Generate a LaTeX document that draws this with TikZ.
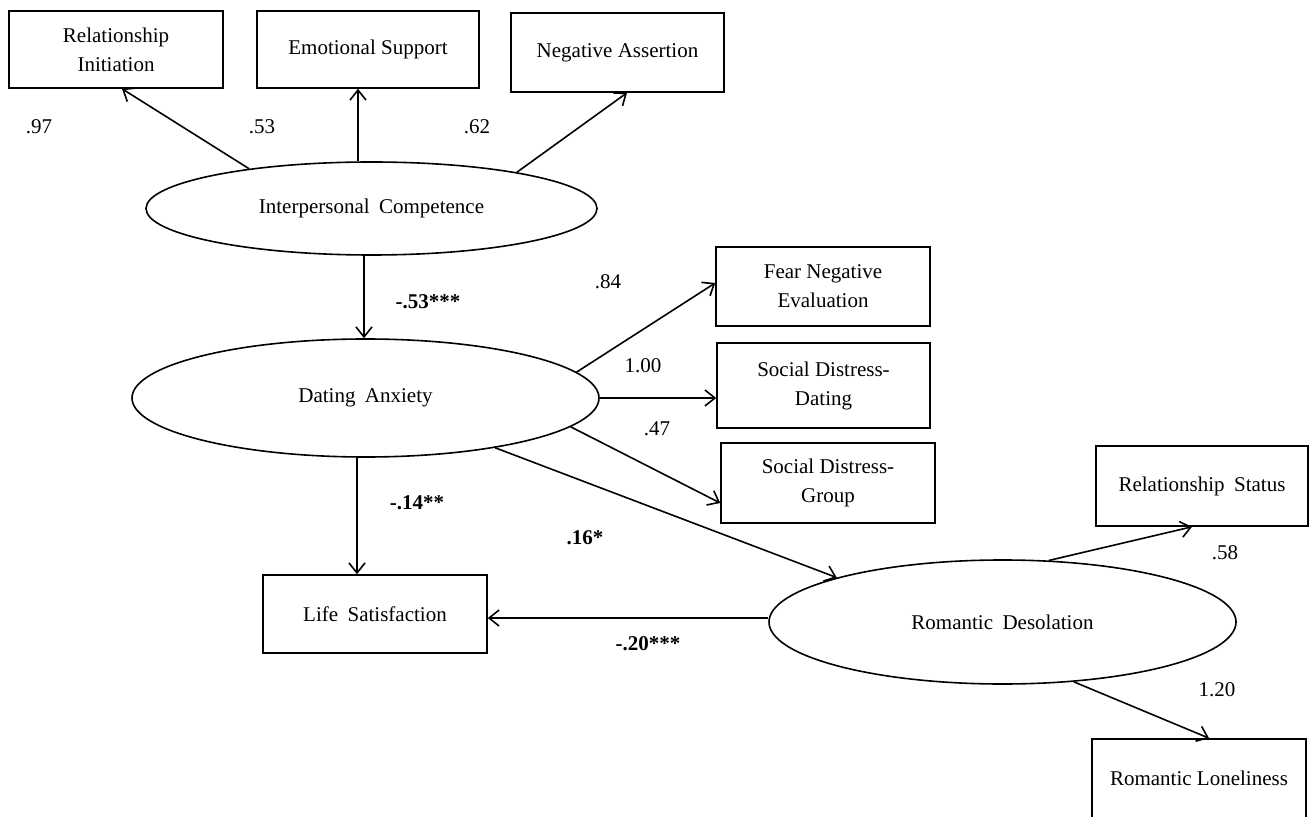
\documentclass[tikz,border=0pt]{standalone}
\usepackage{fontspec}
\setmainfont{Liberation Serif}
\usetikzlibrary{arrows.meta,shapes.geometric,calc}
\newcommand{\gap}{\hspace{0.45em}}
\begin{document}
\begin{tikzpicture}[x=0.5pt,y=-0.5pt,
  font=\fontsize{10.5}{14.5}\selectfont,
  box/.style={draw,line width=0.8pt,rectangle,inner sep=0pt,align=center},
  latent/.style={draw,line width=0.8pt,ellipse,inner sep=0pt},
  arr/.style={line width=0.8pt,-{Straight Barb[length=5pt,width=8pt,line width=0.8pt]}},
  lbl/.style={inner sep=0pt},
  blbl/.style={inner sep=0pt,font=\fontsize{10.5}{14.5}\selectfont\bfseries}]
\fill[white] (0,0) rectangle (1309,817);
\useasboundingbox (0,0) rectangle (1309,817);

% observed indicators (top)
\node[box,minimum width=107pt,minimum height=38.5pt] (RI) at (116,49.5) {Relationship\\Initiation};
\node[box,minimum width=111pt,minimum height=38.5pt] (ES) at (368,49.5) {Emotional Support};
\node[box,minimum width=106.5pt,minimum height=39.5pt] (NA) at (617.5,52.5) {Negative Assertion};

% latent variables
\node[latent,minimum width=225.5pt,minimum height=46.5pt] (IC) at (371.5,208.5) {Interpersonal\gap Competence};
\node[latent,minimum width=233.5pt,minimum height=59pt] (DA) at (365.5,398) {Dating\gap Anxiety};
\node[latent,minimum width=233.5pt,minimum height=62pt] (RD) at (1002.5,622) {Romantic\gap Desolation};

% dating anxiety indicators
\node[box,minimum width=107pt,minimum height=39.5pt] (FNE) at (823,286.5) {Fear Negative\\Evaluation};
\node[box,minimum width=106.5pt,minimum height=42.5pt] (SDD) at (823.5,385.5) {Social Distress-\\Dating};
\node[box,minimum width=107pt,minimum height=40pt] (SDG) at (828,483) {Social Distress-\\Group};

% outcome and romantic indicators
\node[box,minimum width=112pt,minimum height=39pt] (LS) at (375,614) {Life\gap Satisfaction};
\node[box,minimum width=106pt,minimum height=40pt] (RS) at (1202,486) {Relationship\gap Status};
\node[box,minimum width=107pt,minimum height=39.5pt] (RL) at (1199,778.5) {Romantic Loneliness};

% connectors
\draw[arr] (IC.162) -- ([xshift=3pt]RI.south);
\draw[arr] ([xshift=-5pt]ES.south |- IC.north) -- ([xshift=-5pt]ES.south);
\draw[arr] (IC.14) -- ([xshift=4.75pt]NA.south);
\draw[arr] ([xshift=-3.75pt]IC.south) -- ([xshift=-3.75pt]IC.south |- DA.north);
\draw[arr] (DA.7) -- ([yshift=1.75pt]FNE.west);
\draw[arr] (DA.east) -- (DA.east -| SDD.west);
\draw[arr] (DA.-8) -- ([yshift=-10pt]SDG.west);
\draw[arr] (DA.-21) -- (RD.165);
\draw[arr] ([xshift=-9pt]LS.north |- DA.south) -- ([xshift=-9pt]LS.north);
\draw[arr] ([yshift=2pt]RD.west) -- ([yshift=2pt]RD.west -| LS.east);
\draw[arr] (RD.53) -- ([xshift=-5pt]RS.south);
\draw[arr] (RD.-40) -- ([xshift=5pt]RL.north);

% loadings and path coefficients
\node[lbl] (l97) at (39,127) {.97};
\node[lbl] (l53) at (262,127) {.53};
\node[lbl] (l62) at (477,127) {.62};
\node[blbl] (p53) at (428,302) {-.53***};
\node[lbl] (l84) at (608,282) {.84};
\node[lbl] (l100) at (643,366) {1.00};
\node[lbl] (l47) at (657,429) {.47};
\node[blbl] (p14) at (417,503) {-.14**};
\node[blbl] (p16) at (585,538) {.16*};
\node[blbl] (p20) at (648,644) {-.20***};
\node[lbl] (l58) at (1225,553) {.58};
\node[lbl] (l120) at (1217,690) {1.20};
\end{tikzpicture}
\end{document}
